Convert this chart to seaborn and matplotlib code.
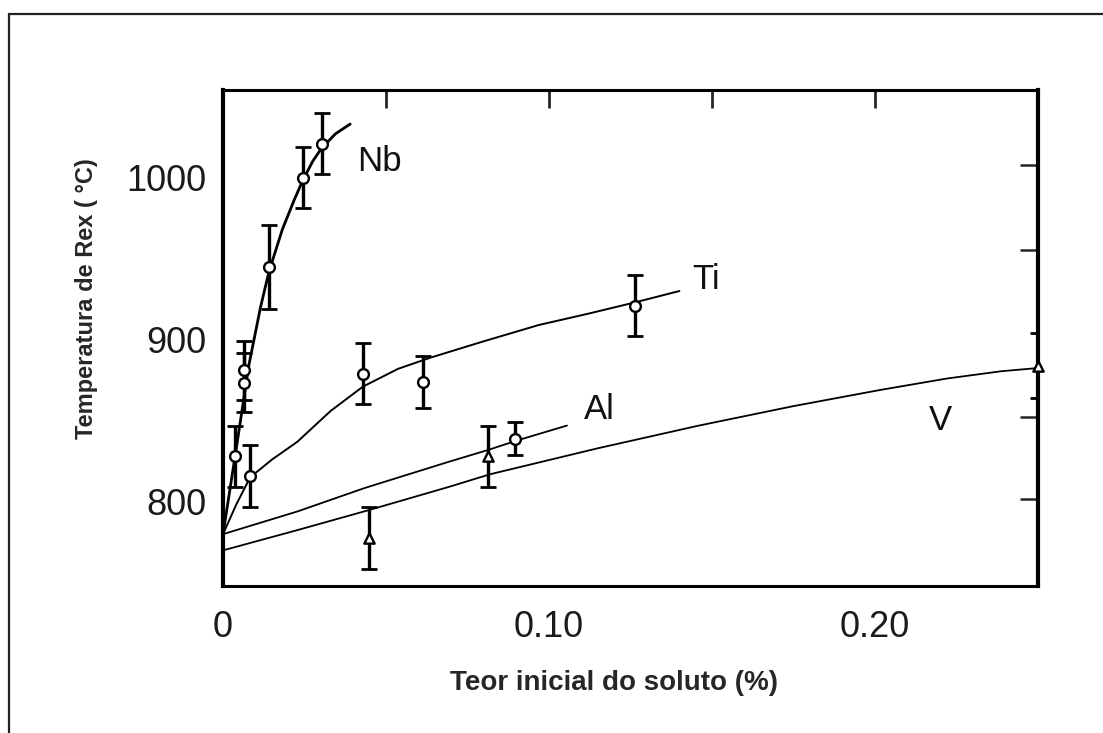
import matplotlib
matplotlib.use("Agg")
import matplotlib.pyplot as plt
from matplotlib.lines import Line2D
import pandas as pd
import seaborn as sns

# Smoothed recrystallisation-temperature curves (solute %, °C)
nb_curve_x = [0, 0.002, 0.0043, 0.0079, 0.0115, 0.0141, 0.0182, 0.0218, 0.0244, 0.0275, 0.0302, 0.0345, 0.039]
nb_curve_t = [780, 806, 836, 884, 920, 942, 968, 986, 998, 1010, 1018, 1027, 1033]
ti_curve_x = [0, 0.004, 0.0083, 0.015, 0.0228, 0.033, 0.0429, 0.0537, 0.0638, 0.08, 0.0968, 0.112, 0.1264, 0.14]
ti_curve_t = [780, 798, 815, 826, 837, 856, 871, 882, 889, 899, 909, 916, 923, 930]
al_curve_x = [0, 0.0228, 0.0435, 0.069, 0.0814, 0.0897, 0.1055]
al_curve_t = [780, 794, 808.5, 824.5, 832, 837.5, 847]
v_curve_x = [0, 0.0228, 0.045, 0.069, 0.082, 0.115, 0.146, 0.175, 0.2017, 0.222, 0.2387, 0.25]
v_curve_t = [770, 782.5, 795, 809, 817, 833, 847, 859, 869, 876, 880.5, 882.5]

# Measured points with scatter (±°C)
nb_pts_x = [0.0037, 0.0065, 0.0065, 0.0142, 0.0244, 0.0303]
nb_pts_t = [828, 881, 873.5, 945, 1000, 1021]
nb_pts_e = [19, 18, 18, 26, 19, 19]
ti_pts_x = [0.0083, 0.0429, 0.0614, 0.1264]
ti_pts_t = [816, 879, 874, 921]
ti_pts_e = [19, 19, 16, 19]
al_pts_x = [0.0896]
al_pts_t = [839]
al_pts_e = [10]
v_pts_x = [0.0449, 0.0814, 0.25]
v_pts_t = [777.5, 828, 884]
v_pts_e = [19, 19, 20]

elements = ["Nb", "Ti", "Al", "V"]
label_x = [0.0481, 0.1483, 0.1153, 0.2202]
label_t = [1010, 937, 857, 850]

x_ticks = [0, 0.10, 0.20]
x_tick_labels = ["0", "0.10", "0.20"]
y_ticks = [800, 900, 1000]
y_tick_labels = ["800", "900", "1000"]

curves = pd.concat([
    pd.DataFrame({"teor": nb_curve_x, "temp": nb_curve_t, "elem": "Nb"}),
    pd.DataFrame({"teor": ti_curve_x, "temp": ti_curve_t, "elem": "Ti"}),
    pd.DataFrame({"teor": al_curve_x, "temp": al_curve_t, "elem": "Al"}),
    pd.DataFrame({"teor": v_curve_x, "temp": v_curve_t, "elem": "V"}),
], ignore_index=True)

points = pd.concat([
    pd.DataFrame({"teor": nb_pts_x, "temp": nb_pts_t, "err": nb_pts_e, "elem": "Nb"}),
    pd.DataFrame({"teor": ti_pts_x, "temp": ti_pts_t, "err": ti_pts_e, "elem": "Ti"}),
    pd.DataFrame({"teor": al_pts_x, "temp": al_pts_t, "err": al_pts_e, "elem": "Al"}),
    pd.DataFrame({"teor": v_pts_x, "temp": v_pts_t, "err": v_pts_e, "elem": "V"}),
], ignore_index=True)

sns.set_style("white")
plt.rcParams["font.family"] = ["Liberation Sans", "DejaVu Sans"]

fig = plt.figure(figsize=(11.03, 7.33), dpi=100)
ax = fig.add_axes([0.2022, 0.2005, 0.7389, 0.6767])

sns.lineplot(data=curves, x="teor", y="temp", hue="elem", size="elem",
             sizes={"Nb": 2.0, "Ti": 1.4, "Al": 1.3, "V": 1.3},
             palette={e: "black" for e in elements}, estimator=None,
             sort=False, legend=False, ax=ax, zorder=2)

ax.errorbar(points["teor"], points["temp"], yerr=points["err"], fmt="none",
            ecolor="black", elinewidth=2.4, capsize=6, capthick=2.0, zorder=3)

circles = points[points["elem"] != "V"]
tris = points[points["elem"] == "V"]
sns.scatterplot(data=circles, x="teor", y="temp", marker="o", s=60,
                facecolor="white", edgecolor="black", linewidth=1.7,
                legend=False, ax=ax, zorder=4, clip_on=False)
sns.scatterplot(data=tris, x="teor", y="temp", marker="^", s=55,
                facecolor="white", edgecolor="black", linewidth=1.7,
                legend=False, ax=ax, zorder=4, clip_on=False)

for name, lx, lt in zip(elements, label_x, label_t):
    ax.text(lx, lt, name, fontsize=25, ha="center", va="center", color="#111111")

ax.set_xlim(0, 0.25)
ax.set_ylim(748, 1054)

ax.set_xticks(x_ticks)
ax.set_xticklabels(x_tick_labels)
ax.set_xticks([0.05, 0.15], minor=True)
ax.set_yticks(y_ticks)
ax.set_yticklabels(y_tick_labels)
ax.set_yticks([850, 950], minor=True)

ax.tick_params(axis="x", which="both", direction="in", length=8, width=2.2,
               labelsize=26, pad=17, colors="black", labelcolor="#1a1a1a")
ax.tick_params(axis="y", which="both", direction="in", length=12, width=1.8,
               labelsize=26, pad=12, colors="black", labelcolor="#1a1a1a")

top = ax.secondary_xaxis("top")
top.set_xticks([0.05, 0.10, 0.15, 0.20])
top.set_xticklabels([])
top.tick_params(direction="in", length=13, width=2.0)
top.spines["top"].set_visible(False)

right = ax.secondary_yaxis("right")
right.set_yticks([802, 852, 955, 1008])
right.set_yticklabels([])
right.tick_params(direction="in", length=13, width=1.8)
right.spines["right"].set_visible(False)

for side, sp in ax.spines.items():
    sp.set_visible(True)
    sp.set_color("black")
    sp.set_linewidth(3.0 if side in ("left", "right") else 2.2)

ax.set_xlabel("Teor inicial do soluto (%)", fontsize=20, fontweight="bold")
ax.set_ylabel("Temperatura de Rex ( °C)", fontsize=17, fontweight="bold")
ax.xaxis.set_label_coords(0.48, -0.196)
ax.yaxis.set_label_coords(-0.168, 0.579)
ax.xaxis.label.set_va("center")
ax.yaxis.label.set_va("center")

# Outer frame around the figure (top and left edges)
fig.add_artist(Line2D([0.0082, 0.0082], [0.0, 0.981], transform=fig.transFigure,
                      color="#222222", linewidth=1.6))
fig.add_artist(Line2D([0.0082, 1.0], [0.981, 0.981], transform=fig.transFigure,
                      color="#222222", linewidth=1.6))

fig.savefig("out.png", dpi=100, facecolor="white")
